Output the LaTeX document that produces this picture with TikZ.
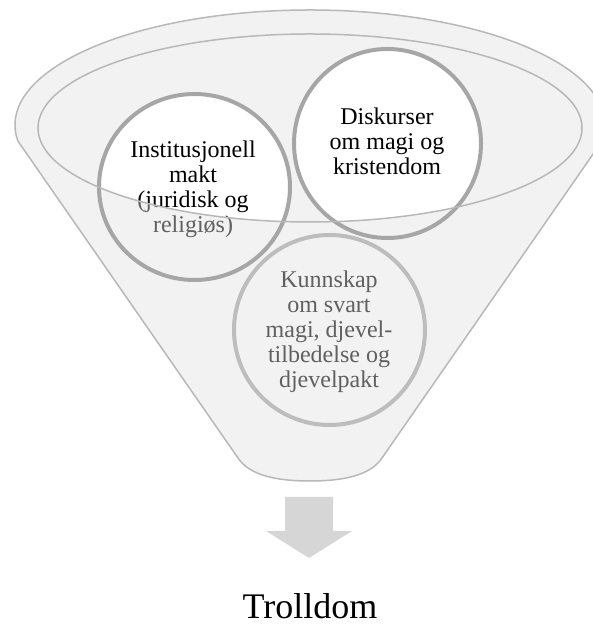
\documentclass[tikz,border=0pt]{standalone}
\usepackage{fontspec}
\setmainfont{Liberation Serif}
\definecolor{funnelfill}{HTML}{F2F2F2}
\definecolor{funnelline}{HTML}{B8B8B8}
\definecolor{ringdark}{HTML}{A6A6A6}
\definecolor{ringlight}{HTML}{BDBDBD}
\definecolor{arrowfill}{HTML}{D6D6D6}
\definecolor{textgray}{HTML}{606060}
\newcommand\txtA{\begin{tabular}[t]{@{}c@{}}Institusjonell\\makt\\(juridisk og\\religiøs)\end{tabular}}
\newcommand\txtB{\begin{tabular}[t]{@{}c@{}}Diskurser\\om magi og\\kristendom\end{tabular}}
\newcommand\txtC{\begin{tabular}[t]{@{}c@{}}Kunnskap\\om svart\\magi, djevel-\\tilbedelse og\\djevelpakt\end{tabular}}
\begin{document}
\begin{tikzpicture}[x=1pt,y=1pt,
  funnel/.style={fill=funnelfill,draw=funnelline,line width=1.5pt,line join=round},
  rimline/.style={draw=funnelline,line width=1.5pt},
  ringA/.style={draw=ringdark,line width=4pt},
  ringB/.style={draw=ringlight,line width=4pt},
  txt/.style={anchor=base,inner sep=0pt,font=\fontsize{24}{25}\selectfont},
  bigtxt/.style={anchor=base,inner sep=0pt,font=\fontsize{36}{40}\selectfont}]
\useasboundingbox (0,0) rectangle (593,626);
% funnel body
\path[funnel] (238,168) -- (17.87,485) arc[start angle=188,end angle=-8,x radius=295pt,y radius=115pt]
  -- (382,168) .. controls (370,150) and (342,145) .. (310,145)
  .. controls (278,145) and (250,150) .. cycle;
% grey text (outside rim)
\node[txt,text=textgray] (t1g) at (193,468) {\txtA};
\node[txt,text=textgray] (t2g) at (387,501) {\txtB};
\node[txt,text=textgray] (t3) at (329,338) {\txtC};
% white inside rim, black text
\begin{scope}
  \clip (310,498) ellipse[x radius=272pt,y radius=94pt];
  \fill[white] (194.5,439) ellipse[x radius=95.5pt,y radius=93pt];
  \fill[white] (387.5,482.5) ellipse[x radius=93.5pt,y radius=94.5pt];
  \node[txt] (t1) at (193,468) {\txtA};
  \node[txt] (t2) at (387,501) {\txtB};
\end{scope}
% rings
\draw[ringA] (194.5,439) ellipse[x radius=95.5pt,y radius=93pt];
\draw[ringA] (387.5,482.5) ellipse[x radius=93.5pt,y radius=94.5pt];
\draw[ringB] (329.5,296) ellipse[x radius=95.5pt,y radius=95pt];
% inner rim
\draw[rimline] (310,498) ellipse[x radius=272pt,y radius=94pt];
% arrow
\fill[arrowfill] (285,129) -- (285,95) -- (266,95) -- (309,68) -- (352,95) -- (333,95) -- (333,129) -- cycle;
\node[bigtxt] (out) at (310,7) {Trolldom};
\end{tikzpicture}
\end{document}
